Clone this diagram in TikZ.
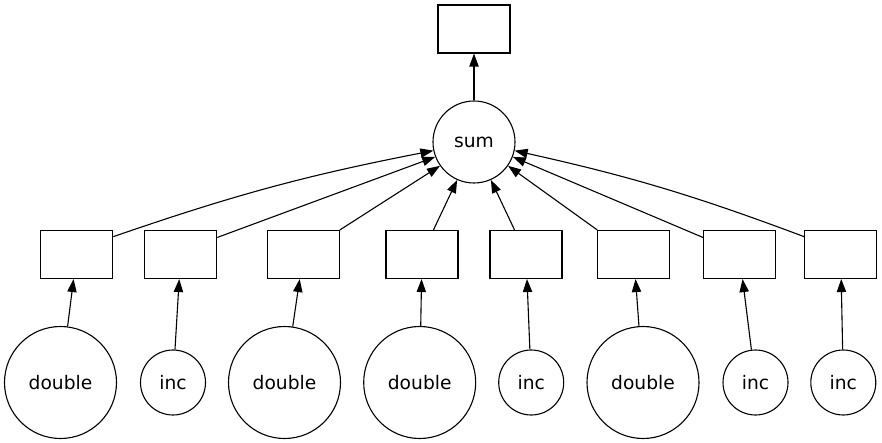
\documentclass[tikz,border=0pt]{standalone}
\usepackage{fontspec}
\newfontfamily\gvfont{DejaVu Sans}
\usetikzlibrary{arrows.meta}
\begin{document}
\begin{tikzpicture}[x=1pt,y=-1pt,
  every node/.style={font=\gvfont\fontsize{18.67}{22}\selectfont, line width=1.1pt, draw=black, inner sep=0pt},
  boxnode/.style={rectangle, minimum width=72pt, minimum height=48pt},
  bignode/.style={circle, minimum size=112pt},
  smallnode/.style={circle, minimum size=65pt},
  sumnode/.style={circle, minimum size=82pt},
  edge/.style={line width=1.1pt, -{Triangle[length=13pt,width=9.3pt]}}]
\useasboundingbox (0,0) rectangle (882,443);
\fill[white] (0,0) rectangle (882,443);
\node[boxnode] (top) at (474,29) {};
\node[sumnode] (sum) at (474,142) {sum};
\node[boxnode] (b1) at (76.7,254.5) {};
\node[boxnode] (b2) at (180.7,254.5) {};
\node[boxnode] (b3) at (303.3,254.5) {};
\node[boxnode] (b4) at (422,254.5) {};
\node[boxnode] (b5) at (526,254.5) {};
\node[boxnode] (b6) at (633.8,254.5) {};
\node[boxnode] (b7) at (739.5,254.5) {};
\node[boxnode] (b8) at (840.7,254.5) {};
\node[bignode] (c1) at (60.5,382.5) {double};
\node[smallnode] (c2) at (173,382.5) {inc};
\node[bignode] (c3) at (284.5,382.5) {double};
\node[bignode] (c4) at (419.7,382.5) {double};
\node[smallnode] (c5) at (531.2,382.5) {inc};
\node[bignode] (c6) at (643,382.5) {double};
\node[smallnode] (c7) at (755.5,382.5) {inc};
\node[smallnode] (c8) at (843.3,382.5) {inc};
\draw[edge] (sum.north) -- (top.south);
\draw[edge] (b1.26) to[bend left=4] (sum.192);
\draw[edge] (b2.25) -- (sum.201);
\draw[edge] (b3.north east) -- (sum.215);
\draw[edge] (b4.65) -- (sum.246);
\draw[edge] (b5.115) -- (sum.294);
\draw[edge] (b6.north west) -- (sum.325);
\draw[edge] (b7.155) -- (sum.339);
\draw[edge] (b8.154) to[bend right=4] (sum.348);
\draw[edge] (c1) -- (b1);
\draw[edge] (c2) -- (b2);
\draw[edge] (c3) -- (b3);
\draw[edge] (c4) -- (b4);
\draw[edge] (c5) -- (b5);
\draw[edge] (c6) -- (b6);
\draw[edge] (c7) -- (b7);
\draw[edge] (c8) -- (b8);
\end{tikzpicture}
\end{document}
